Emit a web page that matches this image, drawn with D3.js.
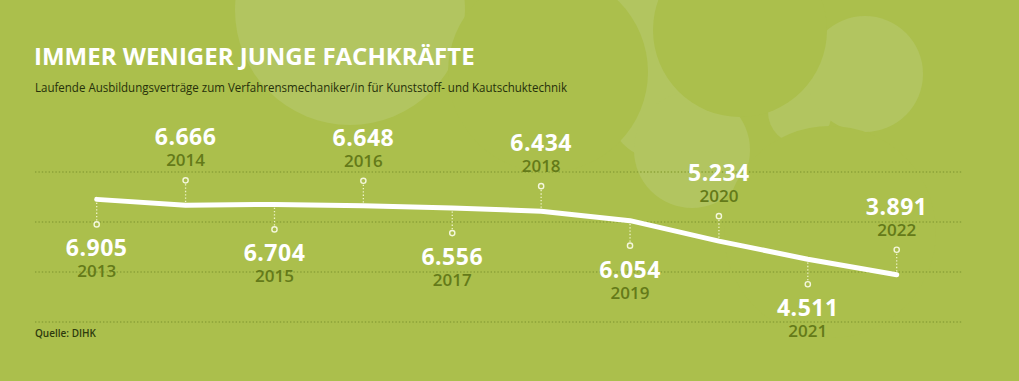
<!doctype html>
<html>
<head>
<meta charset="utf-8" />
<title>Immer weniger junge Fachkräfte</title>
<script src="https://cdn.jsdelivr.net/npm/d3@7"></script>
<style>
  html, body { margin: 0; padding: 0; overflow: hidden; background: #abbf4c; }
  svg { display: block; }
</style>
</head>
<body>
<script>
const years = [2013, 2014, 2015, 2016, 2017, 2018, 2019, 2020, 2021, 2022];
const values = [6905, 6666, 6704, 6648, 6556, 6434, 6054, 5234, 4511, 3891];
const gridTicks = [8000, 6000, 4000, 2000];

const title = "IMMER WENIGER JUNGE FACHKRÄFTE";
const subtitle = "Laufende Ausbildungsverträge zum Verfahrensmechaniker/in für Kunststoff- und Kautschuktechnik";
const source = "Quelle: DIHK";

const width = 1019, height = 381;
const bg = "#abbf4c", light = "#b2c560";

const de = d3.formatLocale({ decimal: ",", thousands: ".", grouping: [3], currency: ["", " €"] });
const fmt = de.format(",d");

const svg = d3.select("body").append("svg")
    .attr("width", width)
    .attr("height", height);

svg.append("rect").attr("width", width).attr("height", height).attr("fill", bg);

// decorative blobs in the background (light circles, then holes in base colour)
const deco = svg.append("g");
[[350, 10, 115], [640, 40, 62], [662, 105, 55], [692, 150, 58], [800, 112, 32], [865, 74, 58]]
    .forEach(c => deco.append("circle").attr("cx", c[0]).attr("cy", c[1]).attr("r", c[2]).attr("fill", light));
[[548, 72, 100], [740, 30, 87], [830, 232, 106]]
    .forEach(c => deco.append("circle").attr("cx", c[0]).attr("cy", c[1]).attr("r", c[2]).attr("fill", bg));

const x = d3.scaleLinear().domain([2013, 2022]).range([96.7, 896.7]);
const y = d3.scaleLinear().domain([2000, 8000]).range([322, 172]);

// dotted grid
svg.append("g")
    .selectAll("line")
    .data(gridTicks)
    .join("line")
    .attr("x1", 35).attr("x2", 962)
    .attr("y1", d => y(d)).attr("y2", d => y(d))
    .attr("stroke", "#8ca238")
    .attr("stroke-width", 1.4)
    .attr("stroke-dasharray", "1.4,2");

// titles
svg.append("text")
    .attr("x", 34).attr("y", 65)
    .attr("fill", "#fff")
    .style("font", "700 24px 'Open Sans'")
    .text(title);

svg.append("text")
    .attr("x", 35).attr("y", 92)
    .attr("fill", "#26300a")
    .attr("textLength", 532)
    .attr("lengthAdjust", "spacingAndGlyphs")
    .style("font", "400 13px 'Open Sans'")
    .text(subtitle);

svg.append("text")
    .attr("x", 35).attr("y", 337)
    .attr("fill", "#2e3a0c")
    .style("font", "600 10px 'Open Sans'")
    .text(source);

const pts = years.map((yr, i) => ({ year: yr, value: values[i], below: i % 2 === 0 }));
const off = 25;

// leaders
const lead = svg.append("g");
lead.selectAll("line")
    .data(pts)
    .join("line")
    .attr("x1", d => x(d.year)).attr("x2", d => x(d.year))
    .attr("y1", d => y(d.value))
    .attr("y2", d => y(d.value) + (d.below ? off - 3 : -(off - 3)))
    .attr("stroke", "#eef3c8")
    .attr("stroke-width", 1.3)
    .attr("stroke-dasharray", "1.3,2");

// line
svg.append("path")
    .datum(pts)
    .attr("fill", "none")
    .attr("stroke", "#fff")
    .attr("stroke-width", 5)
    .attr("stroke-linecap", "round")
    .attr("stroke-linejoin", "round")
    .attr("d", d3.line().x(d => x(d.year)).y(d => y(d.value)));

lead.selectAll("circle")
    .data(pts)
    .join("circle")
    .attr("cx", d => x(d.year))
    .attr("cy", d => y(d.value) + (d.below ? off : -off))
    .attr("r", 2.6)
    .attr("fill", bg)
    .attr("stroke", "#f4f7dc")
    .attr("stroke-width", 1.4);

// labels
const lab = svg.append("g").attr("text-anchor", "middle");
lab.selectAll("text.val")
    .data(pts)
    .join("text")
    .attr("class", "val")
    .attr("x", d => x(d.year))
    .attr("y", d => y(d.value) + (d.below ? off + 32 : -off - 35))
    .attr("fill", "#fff")
    .style("font", "700 23px 'Open Sans'")
    .style("letter-spacing", "0.5px")
    .text(d => fmt(d.value));

lab.selectAll("text.yr")
    .data(pts)
    .join("text")
    .attr("class", "yr")
    .attr("x", d => x(d.year))
    .attr("y", d => y(d.value) + (d.below ? off + 53 : -off - 14))
    .attr("fill", "#647a19")
    .style("font", "600 17px 'Open Sans'")
    .text(d => d.year);
</script>
</body>
</html>
